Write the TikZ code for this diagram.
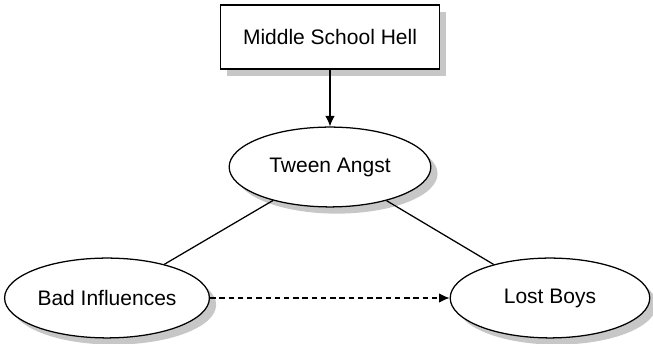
\documentclass[tikz,border=0pt]{standalone}
\usepackage{fontspec}
\setmainfont{Liberation Sans}
\usetikzlibrary{arrows.meta}
\usetikzlibrary{shapes.geometric,shadows}
\tikzset{
  shade/.style={drop shadow={shadow xshift=3.2pt,shadow yshift=-3.2pt,fill=black!22,opacity=1}},
  causebox/.style={rectangle,draw,fill=white,shade,minimum width=104pt,minimum height=30.5pt,inner sep=0pt},
  factor/.style={ellipse,draw,fill=white,shade,minimum width=96pt,minimum height=38pt,inner sep=0pt},
}

\begin{document}
\begin{tikzpicture}[x=0.476pt,y=-0.476pt,font=\fontsize{10}{12}\selectfont,semithick]
            \useasboundingbox (0,0) rectangle (653,344);
            \node[causebox] (hell) at (330,37) {Middle School Hell};
            \node[factor] (angst) at (330,167) {Tween Angst};
            \node[factor,minimum width=97.5pt] (bad) at (107,298) {Bad Influences};
            \node[factor,minimum width=95pt] (lost) at (550,298) {Lost Boys};
            \draw [-{Latex[length=5pt,width=4.5pt]}] (hell) -- (angst);
            \draw (angst) -- (bad);
            \draw (angst) -- (lost);
            \draw [dash pattern=on 2.6pt off 1.8pt,-{Latex[length=5pt,width=4.5pt]}] (bad) -- (lost);
          \end{tikzpicture}
\end{document}
